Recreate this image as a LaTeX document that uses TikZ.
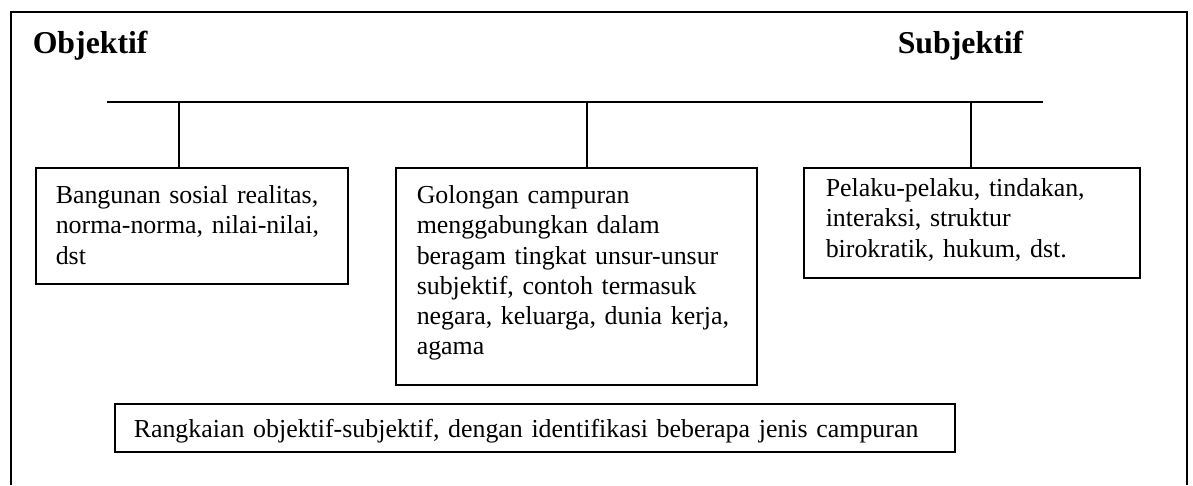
\documentclass[tikz,border=0pt]{standalone}
\usepackage{fontspec}
\setmainfont{Liberation Serif}
\hbadness=10000 \hfuzz=100pt
\newcommand{\myline}[1]{\mbox{#1}}
\begin{document}
\begin{tikzpicture}[x=1pt,y=-1pt,line width=1.5pt,
  box/.style={draw,line width=1.5pt,anchor=north west,align=left,inner ysep=0pt,
    font=\fontsize{25.9}{30.2}\selectfont},
  head/.style={anchor=base west,inner sep=0pt,font=\fontsize{31.8}{36}\selectfont\bfseries},
  frame/.style={line width=2pt}]
\useasboundingbox (0,0) rectangle (1193,485);
% outer frame (open at bottom)
\coordinate (fbl) at (11,485);
\coordinate (ftl) at (11,12);
\coordinate (ftr) at (1187,12);
\coordinate (fbr) at (1187,485);
\draw[frame] (fbl) -- (ftl) -- (ftr) -- (fbr);
% headings
\node[head] (obj) at (32,53) {Objektif};
\node[head] (subj) at (897,53) {Subjektif};
% horizontal bar
\coordinate (hl) at (107,102);
\coordinate (hr) at (1043,102);
\draw (hl) -- (hr);
% boxes
\node[box,inner xsep=20pt,text width=272pt,text height=36pt,text depth=80pt] (b1) at (35,167)
  {\myline{Bangunan sosial realitas,}\\\myline{norma-norma, nilai-nilai,}\\\myline{dst}};
\node[box,inner xsep=21pt,text width=319pt,text height=36pt,text depth=181pt] (b2) at (395,167)
  {\myline{Golongan campuran}\\\myline{menggabungkan dalam}\\\myline{beragam tingkat unsur-unsur}\\\myline{subjektif, contoh termasuk}\\\myline{negara, keluarga, dunia kerja,}\\\myline{agama}};
\node[box,inner xsep=22pt,text width=292pt,text height=29pt,text depth=81pt] (b3) at (803,167)
  {\myline{Pelaku-pelaku, tindakan,}\\\myline{interaksi, struktur}\\\myline{birokratik, hukum, dst.}};
\node[box,inner xsep=19pt,text width=802pt,text height=34pt,text depth=14pt] (b4) at (114,403)
  {\myline{Rangkaian objektif-subjektif, dengan identifikasi beberapa jenis campuran}};
% drops
\coordinate (t1) at (179,102);
\coordinate (t2) at (587,102);
\coordinate (t3) at (971,102);
\draw (t1) -- (t1 |- b1.north);
\draw (t2) -- (t2 |- b2.north);
\draw (t3) -- (t3 |- b3.north);
\end{tikzpicture}
\end{document}
